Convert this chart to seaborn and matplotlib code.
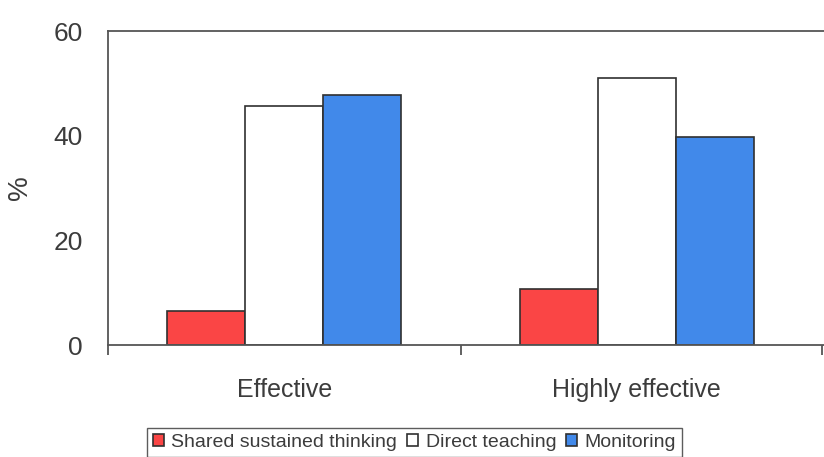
import pandas as pd
import seaborn as sns
import matplotlib.pyplot as plt
from matplotlib.ticker import FixedLocator

# Effectiveness of teaching strategies
categories = ['Effective', 'Highly effective']
series = ['Shared sustained thinking', 'Direct teaching', 'Monitoring']
shared_thinking = [6.5, 10.7]
direct_teaching = [45.7, 51.0]
monitoring = [47.8, 39.8]

df = pd.DataFrame({
    'categoria': categories * 3,
    'serie': [series[0]] * 2 + [series[1]] * 2 + [series[2]] * 2,
    'valor': shared_thinking + direct_teaching + monitoring,
})

colores = {series[0]: '#FA4545', series[1]: '#FFFFFF', series[2]: '#4189EA'}
gris = '#3c3c3c'

sns.set_style('white')
plt.rcParams['font.family'] = ['Liberation Sans', 'DejaVu Sans']

fig = plt.figure(figsize=(8.24, 4.57), dpi=100)
ax = fig.add_axes([0.131, 0.245, 0.869, 0.687])
sns.barplot(data=df, x='categoria', y='valor', hue='serie', palette=colores,
            width=0.665, edgecolor='#303030', linewidth=1.2, saturation=1, ax=ax)

ax.set_ylim(0, 60)
ax.set_xlim(-0.5, 1.531)
ax.set_yticks([0, 20, 40, 60])
ax.tick_params(axis='y', length=0, labelsize=19, labelcolor=gris, pad=18)
ax.tick_params(axis='x', which='major', length=0, labelsize=18, labelcolor=gris, pad=24)
ax.xaxis.set_minor_locator(FixedLocator([-0.5, 0.5, 1.525]))
ax.tick_params(axis='x', which='minor', bottom=True, length=7, width=1.3, color='#555555')
ax.set_xlabel('')
ax.set_ylabel('%', fontsize=20, color=gris)
ax.yaxis.set_label_coords(-0.105, 0.5)

for lado in ['left', 'bottom', 'top']:
    ax.spines[lado].set_color('#555555')
    ax.spines[lado].set_linewidth(1.3)
ax.spines['right'].set_visible(False)

ax.legend(loc='upper center', bbox_to_anchor=(0.428, -0.264), ncol=3, frameon=True,
          fancybox=False, edgecolor='#333333', fontsize=14, handlelength=0.58,
          handleheight=0.58, handletextpad=0.37, columnspacing=0.5, borderpad=0.3,
          borderaxespad=0, labelcolor=gris)
leg = ax.get_legend()
leg.get_frame().set_linewidth(1.0)

plt.savefig('out.png', dpi=100)
